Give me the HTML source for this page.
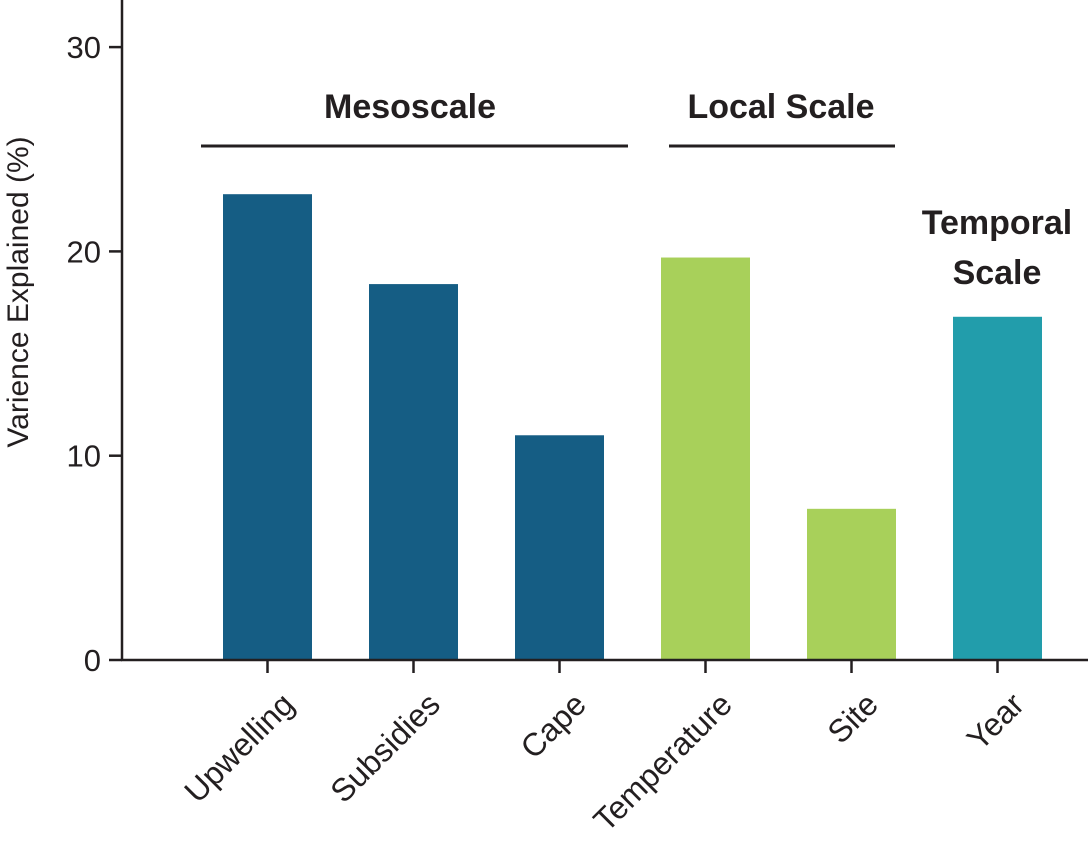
<!DOCTYPE html>
<html><head><meta charset="utf-8"><style>
html,body{margin:0;padding:0;background:#fff;}
svg text{font-family:"Liberation Sans",sans-serif;fill:#231f20;}
</style></head><body>
<svg id="chart" width="1090" height="852" viewBox="0 0 1090 852" xmlns="http://www.w3.org/2000/svg">
<g id="bars"></g>
<g id="axes"></g>
<g>
<text x="410" y="118" text-anchor="middle" font-size="34" font-weight="bold">Mesoscale</text>
<line x1="201" y1="146" x2="628" y2="146" stroke="#231f20" stroke-width="3"/>
<text x="781" y="118" text-anchor="middle" font-size="34" font-weight="bold">Local Scale</text>
<line x1="669" y1="146" x2="895" y2="146" stroke="#231f20" stroke-width="3"/>
<text x="997" y="234" text-anchor="middle" font-size="34" font-weight="bold">Temporal</text>
<text x="997" y="284" text-anchor="middle" font-size="34" font-weight="bold">Scale</text>
</g>
<text transform="translate(28,292) rotate(-90)" text-anchor="middle" font-size="30">Varience Explained (%)</text>
</svg>
<script>
const categories = ["Upwelling","Subsidies","Cape","Temperature","Site","Year"];
const values = [22.8, 18.4, 11.0, 19.7, 7.4, 16.8];
const barColors = ["#155d84","#155d84","#155d84","#a8d05a","#a8d05a","#229dab"];
const yTicks = [0,10,20,30];
const NS="http://www.w3.org/2000/svg";
const y0=660, pxPerUnit=20.43;
function yScale(v){return y0 - v*pxPerUnit;}
function xCenter(i){return 267.5 + i*146;}
const bars=document.getElementById('bars');
const axes=document.getElementById('axes');
categories.forEach((c,i)=>{
  const r=document.createElementNS(NS,'rect');
  
  
  r.setAttribute('x',xCenter(i)-44.5);r.setAttribute('width',89);
  r.setAttribute('y',yScale(values[i]));r.setAttribute('height',y0-yScale(values[i]));
  r.setAttribute('fill',barColors[i]);bars.appendChild(r);
  const t=document.createElementNS(NS,'line');
  
  
  t.setAttribute('x1',xCenter(i));t.setAttribute('x2',xCenter(i));t.setAttribute('y1',y0);t.setAttribute('y2',y0+13);
  t.setAttribute('stroke','#231f20');t.setAttribute('stroke-width',2.5);axes.appendChild(t);
  const l=document.createElementNS(NS,'text');
  
  
  l.setAttribute('transform','translate('+(xCenter(i)+12)+','+(y0+30)+') rotate(-45)');
  l.setAttribute('text-anchor','end');l.setAttribute('font-size','32');l.setAttribute('dominant-baseline','hanging');
  l.textContent=c;axes.appendChild(l);
});
yTicks.forEach(v=>{
  const t=document.createElementNS(NS,'line');
  
  
  t.setAttribute('x1',109);t.setAttribute('x2',122);t.setAttribute('y1',yScale(v));t.setAttribute('y2',yScale(v));
  t.setAttribute('stroke','#231f20');t.setAttribute('stroke-width',2.5);axes.appendChild(t);
  const l=document.createElementNS(NS,'text');
  
  
  l.setAttribute('x',101);l.setAttribute('y',yScale(v)+11);l.setAttribute('text-anchor','end');l.setAttribute('font-size','31');
  l.textContent=v;axes.appendChild(l);
});
const ya=document.createElementNS(NS,'line');


ya.setAttribute('x1',122);ya.setAttribute('x2',122);ya.setAttribute('y1',0);ya.setAttribute('y2',y0+1);
ya.setAttribute('stroke','#231f20');ya.setAttribute('stroke-width',2.5);axes.appendChild(ya);
const xa=document.createElementNS(NS,'line');


xa.setAttribute('x1',121);xa.setAttribute('x2',1088);xa.setAttribute('y1',y0);xa.setAttribute('y2',y0);
xa.setAttribute('stroke','#231f20');xa.setAttribute('stroke-width',2.5);axes.appendChild(xa);
</script>
</body></html>
